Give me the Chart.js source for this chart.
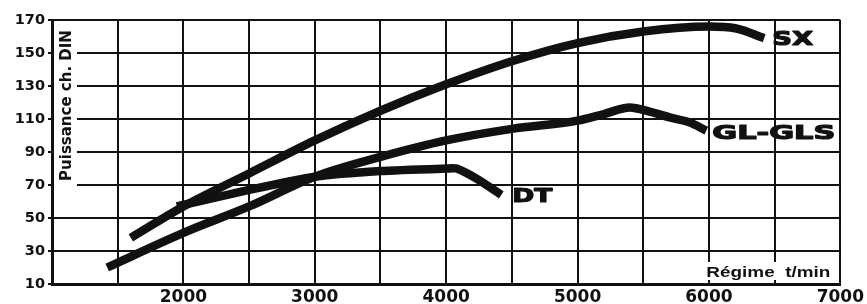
<!DOCTYPE html>
<html lang="fr">
<head>
<meta charset="utf-8">
<title>Puissance ch. DIN</title>
<script src="https://cdn.jsdelivr.net/npm/chart.js@4.4.1/dist/chart.umd.min.js"></script>
<style>
  html, body { margin: 0; padding: 0; background: #fff; }
  #wrap { width: 867px; height: 304px; }
</style>
</head>
<body>
<div id="wrap"><canvas id="powerChart" width="867" height="304"></canvas></div>
<script>
  // engine speed (t/min) and power (ch. DIN)
  const sxRpm   = [1600, 2000, 2500, 3000, 3500, 4000, 4500, 5000, 5500, 6000, 6200, 6420];
  const sxPower = [38, 57, 77, 97, 115, 131, 145, 156, 163, 166, 165, 159];

  const glRpm   = [1420, 2000, 2500, 3000, 3500, 4000, 4500, 5000, 5200, 5400, 5500, 5700, 5850, 5980];
  const glPower = [20, 41, 57, 75, 87, 97, 104, 109, 113, 117, 115.5, 111, 108, 103];

  const dtRpm   = [1950, 2500, 3000, 3500, 4000, 4080, 4250, 4420];
  const dtPower = [57, 67, 75, 78.5, 80, 80, 73, 64];

  const seriesNames = ["SX", "GL-GLS", "DT"];
  const xTickLabels = [2000, 3000, 4000, 5000, 6000, 7000];
  const yTicks = [10, 30, 50, 70, 90, 110, 130, 150, 170];

  const ink = "#111";
  const boldFont = '"DejaVu Sans", sans-serif';

  function toPoints(xs, ys) {
    return xs.map((x, i) => ({ x: x, y: ys[i] }));
  }

  function curve(label, xs, ys, opts) {
    return Object.assign({
      label: label,
      data: toPoints(xs, ys),
      borderColor: ink,
      borderWidth: 8.5,
      borderCapStyle: "butt",
      borderJoinStyle: "round",
      pointRadius: 0,
      fill: false,
      showLine: true
    }, opts || {});
  }

  // text drawn stretched horizontally so it fills a target width
  function wideText(ctx, text, x, y, font, width, stroke) {
    ctx.font = font;
    const w = ctx.measureText(text).width;
    const sx = width / w;
    ctx.save();
    ctx.translate(x, y);
    ctx.scale(sx, 1);
    if (stroke) {
      ctx.lineWidth = stroke;
      ctx.lineJoin = "round";
      ctx.strokeText(text, 0, 0);
    }
    ctx.fillText(text, 0, 0);
    ctx.restore();
  }

  const labelSpec = [
    { dx: 8,  dy: 2, width: 41 },
    { dx: 6,  dy: 3, width: 123 },
    { dx: 11, dy: 2, width: 40 }
  ];

  const overlay = {
    id: "overlay",
    beforeDatasetsDraw(chart) {
      const ctx = chart.ctx;
      const a = chart.chartArea;
      const y = chart.scales.y;
      ctx.save();
      // white strip behind the axis title
      ctx.fillStyle = "#fff";
      ctx.fillRect(a.left + 2, a.top + 2, 23, y.getPixelForValue(66) - a.top - 2);
      ctx.fillStyle = ink;
      ctx.translate(a.left + 15, (a.top + y.getPixelForValue(70)) / 2 + 3);
      ctx.rotate(-Math.PI / 2);
      ctx.textAlign = "center";
      ctx.textBaseline = "middle";
      ctx.font = "bold 15px " + boldFont;
      ctx.fillText("Puissance ch. DIN", 0, 0);
      ctx.restore();

      // x axis title, bottom right inside the grid
      ctx.save();
      ctx.fillStyle = "#fff";
      ctx.fillRect(a.right - 138, a.bottom - 22, 136, 18);
      ctx.fillStyle = ink;
      ctx.textBaseline = "alphabetic";
      wideText(ctx, "Régime  t/min", a.right - 134, a.bottom - 7, 'bold 15px "Liberation Sans", sans-serif', 124);
      ctx.restore();
    },
    afterDatasetsDraw(chart) {
      const ctx = chart.ctx;
      ctx.save();
      ctx.fillStyle = ink;
      ctx.strokeStyle = ink;
      ctx.textBaseline = "middle";
      chart.data.datasets.forEach((ds, i) => {
        const pts = chart.getDatasetMeta(i).data;
        const last = pts[pts.length - 1];
        const s = labelSpec[i];
        wideText(ctx, ds.label, last.x + s.dx, last.y + s.dy, "bold 20px " + boldFont, s.width, 1.2);
      });
      ctx.restore();
    }
  };

  const ctx = document.getElementById("powerChart").getContext("2d");
  const powerChart = new Chart(ctx, {
    type: "scatter",
    data: {
      datasets: [
        curve(seriesNames[0], sxRpm, sxPower, { cubicInterpolationMode: "monotone" }),
        curve(seriesNames[1], glRpm, glPower, { cubicInterpolationMode: "monotone" }),
        curve(seriesNames[2], dtRpm, dtPower, { tension: 0.2 })
      ]
    },
    options: {
      responsive: false,
      animation: false,
      events: [],
      layout: { padding: { top: 20, right: 25, left: 0, bottom: 0 } },
      plugins: {
        legend: { display: false },
        tooltip: { enabled: false }
      },
      scales: {
        x: {
          type: "linear",
          min: 1000,
          max: 7000,
          afterFit: (scale) => { scale.height = 20; },
          afterBuildTicks: (scale) => {
            const t = [];
            for (let v = 1000; v <= 7000; v += 500) t.push({ value: v });
            scale.ticks = t;
          },
          grid: { color: ink, lineWidth: 2, drawTicks: false },
          border: { color: ink, width: 3 },
          ticks: {
            autoSkip: false,
            maxRotation: 0,
            padding: 3,
            color: ink,
            font: { family: boldFont, size: 17, weight: "bold" },
            callback: (v) => xTickLabels.includes(v) ? String(v) : ""
          }
        },
        y: {
          min: 10,
          max: 170,
          afterFit: (scale) => { scale.width = 52; },
          afterBuildTicks: (scale) => {
            scale.ticks = yTicks.map(v => ({ value: v }));
          },
          grid: { color: ink, lineWidth: 2, tickLength: 4 },
          border: { color: ink, width: 3 },
          ticks: {
            padding: 3,
            color: ink,
            font: { family: boldFont, size: 14.5, weight: "bold" }
          }
        }
      }
    },
    plugins: [overlay]
  });
</script>
</body>
</html>
